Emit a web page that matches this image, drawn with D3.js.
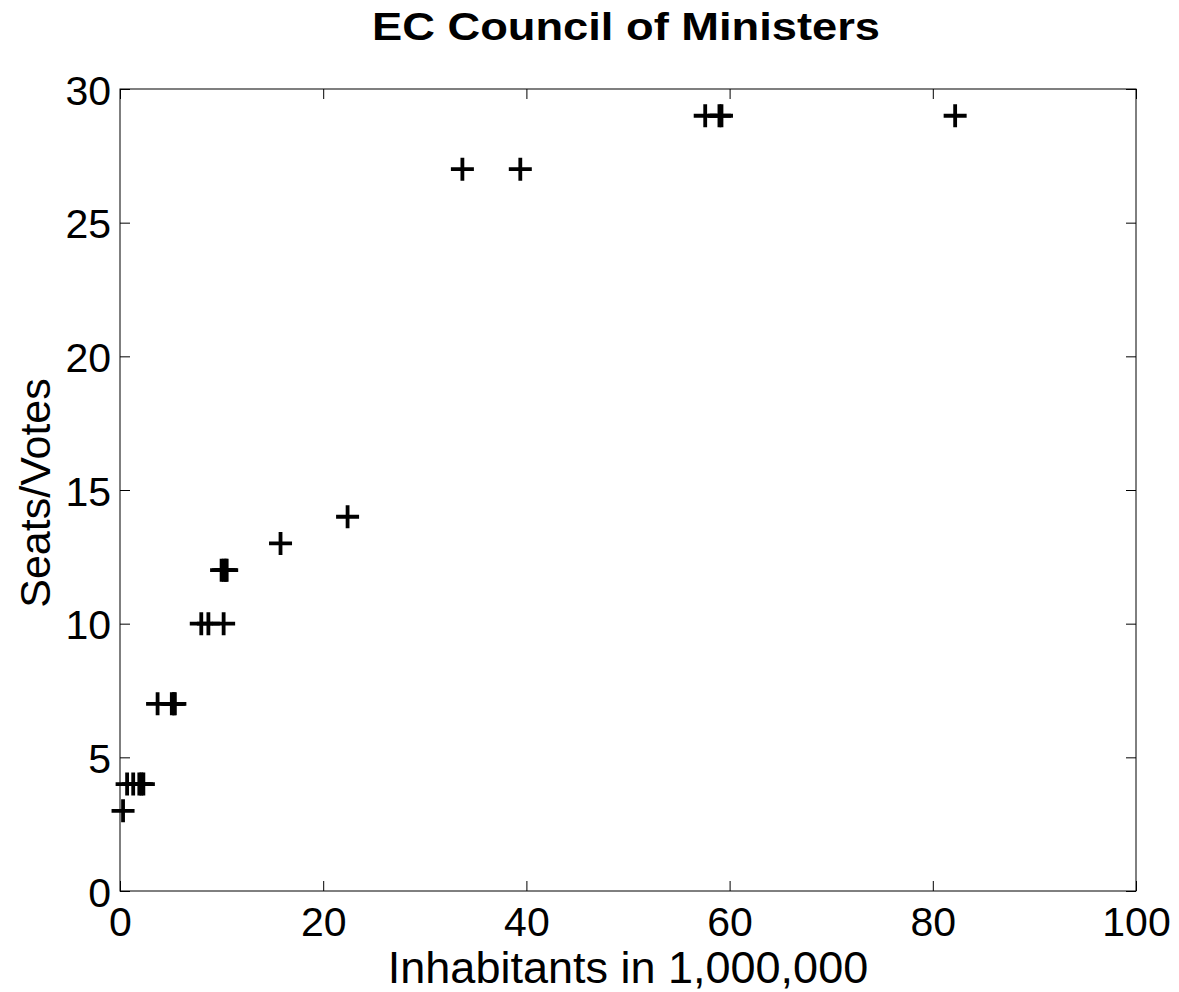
<!DOCTYPE html>
<html>
<head>
<meta charset="utf-8">
<script src="https://cdn.jsdelivr.net/npm/d3@7"></script>
<style>
  html, body { margin: 0; padding: 0; background: #fff; }
  svg { display: block; font-family: "Liberation Sans", Arial, Helvetica, sans-serif; }
</style>
</head>
<body>
<svg id="chart" width="1179" height="992"></svg>
<script>
// Member-state populations (millions) and their weighted votes in the Council
const population = [82.2, 59.0, 59.2, 57.6, 39.4, 33.7, 22.4, 15.8,
                    10.0, 10.2, 10.4, 10.5, 10.2, 8.7, 8.0,
                    5.4, 5.3, 5.1, 3.7, 2.3, 2.1, 1.9, 1.3, 0.7, 0.3];
const votes      = [29, 29, 29, 29, 27, 27, 14, 13,
                    12, 12, 12, 12, 10, 10, 10,
                    7, 7, 7, 7, 4, 4, 4, 4, 4, 3];

const xTicks = [0, 20, 40, 60, 80, 100];
const yTicks = [0, 5, 10, 15, 20, 25, 30];

const titleText = "EC Council of Ministers";
const xLabel = "Inhabitants in 1,000,000";
const yLabel = "Seats/Votes";

const svg = d3.select("#chart");
const plotLeft = 120, plotRight = 1136, plotTop = 89, plotBottom = 891;

const x = d3.scaleLinear().domain([0, 100]).range([plotLeft, plotRight]);
const y = d3.scaleLinear().domain([0, 30]).range([plotBottom, plotTop]);

// Frame
svg.append("rect")
  .attr("x", plotLeft).attr("y", plotTop)
  .attr("width", plotRight - plotLeft).attr("height", plotBottom - plotTop)
  .attr("fill", "none").attr("stroke", "#000").attr("stroke-width", 1);

const tickLen = 10;
const tickFont = 41;

// Inward ticks on all four sides, labels only on bottom and left
const bottomAxis = svg.append("g").attr("transform", `translate(0,${plotBottom})`)
  .call(d3.axisBottom(x).tickValues(xTicks).tickSizeInner(-tickLen).tickSizeOuter(0).tickPadding(0));
bottomAxis.select(".domain").remove();
bottomAxis.selectAll("text").attr("y", 45).attr("dy", null)
  .attr("font-size", tickFont).attr("fill", "#000")
  .attr("font-family", '"Liberation Sans", Arial, sans-serif');

const topAxis = svg.append("g").attr("transform", `translate(0,${plotTop})`)
  .call(d3.axisTop(x).tickValues(xTicks).tickSizeInner(-tickLen).tickSizeOuter(0).tickFormat(""));
topAxis.select(".domain").remove();

const leftAxis = svg.append("g").attr("transform", `translate(${plotLeft},0)`)
  .call(d3.axisLeft(y).tickValues(yTicks).tickSizeInner(-tickLen).tickSizeOuter(0).tickPadding(0));
leftAxis.select(".domain").remove();
leftAxis.selectAll("text").attr("x", -9).attr("dy", null).attr("y", 15)
  .attr("font-size", tickFont).attr("fill", "#000").attr("text-anchor", "end")
  .attr("font-family", '"Liberation Sans", Arial, sans-serif');

const rightAxis = svg.append("g").attr("transform", `translate(${plotRight},0)`)
  .call(d3.axisRight(y).tickValues(yTicks).tickSizeInner(-tickLen).tickSizeOuter(0).tickFormat(""));
rightAxis.select(".domain").remove();

svg.selectAll(".tick line").attr("stroke", "#000").attr("stroke-width", 1);

// Plus markers
const half = 11.5;
const data = population.map((p, i) => ({ p, v: votes[i] }));
const marks = svg.append("g").attr("stroke", "#000").attr("stroke-width", 3.8).attr("fill", "none");
marks.selectAll("path").data(data).join("path")
  .attr("d", d => {
    const cx = x(d.p), cy = y(d.v);
    return `M${cx - half},${cy}H${cx + half}M${cx},${cy - half}V${cy + half}`;
  });

// Title and axis labels
svg.append("text")
  .attr("x", (plotLeft + plotRight) / 2 - 2).attr("y", 40)
  .attr("text-anchor", "middle")
  .attr("font-size", 38).attr("font-weight", "bold")
  .attr("textLength", 508).attr("lengthAdjust", "spacingAndGlyphs")
  .text(titleText);

svg.append("text")
  .attr("x", (plotLeft + plotRight) / 2).attr("y", 983)
  .attr("text-anchor", "middle")
  .attr("font-size", 45)
  .text(xLabel);

svg.append("text")
  .attr("transform", `translate(50,${(plotTop + plotBottom) / 2 + 3}) rotate(-90)`)
  .attr("text-anchor", "middle")
  .attr("font-size", 43)
  .text(yLabel);
</script>
</body>
</html>
